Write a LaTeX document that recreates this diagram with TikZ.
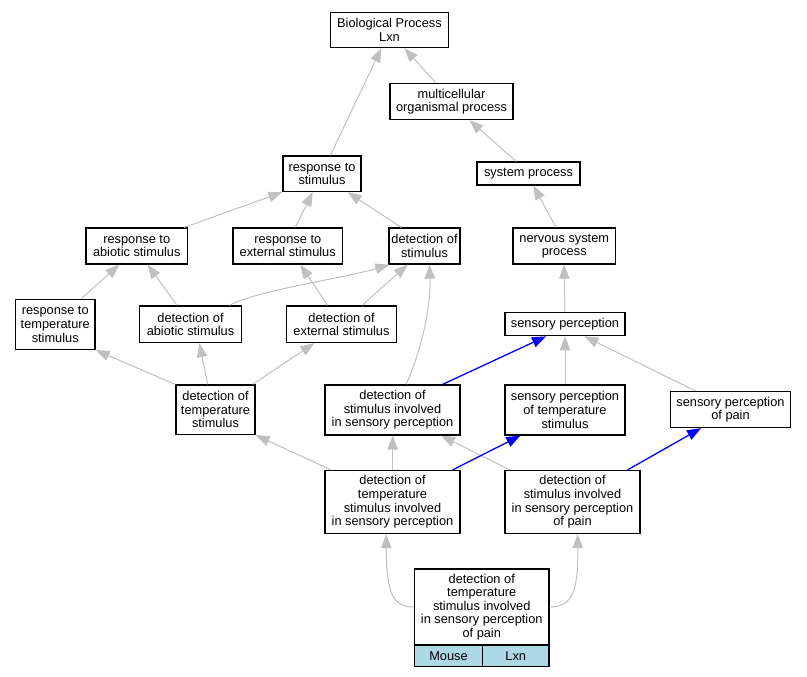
\documentclass[tikz,border=0pt]{standalone}
\usepackage{fontspec}
\setmainfont{Liberation Sans}
\usetikzlibrary{arrows.meta}
\definecolor{edgegray}{RGB}{192,192,192}
\definecolor{lblue}{RGB}{173,216,230}
\tikzset{
  box/.style={draw=black, line width=1.3pt, fill=white, inner sep=0pt, align=center,
    font=\fontsize{12.8}{13.6}\selectfont},
  gedge/.style={draw=edgegray, line width=1pt, -{Triangle[length=14pt,width=10.5pt]}},
  bedge/.style={draw=blue, line width=1.3pt, -{Triangle[length=14pt,width=10.5pt]}},
}
\begin{document}
\begin{tikzpicture}[x=1pt,y=-1pt]
\useasboundingbox (0,0) rectangle (807,677);
% nodes
\node[box, minimum width=118pt, minimum height=35pt] (bp) at (389.5,30) {Biological Process\\Lxn};
\node[box, minimum width=123pt, minimum height=36pt] (mcp) at (451.5,101.5) {multicellular\\organismal process};
\node[box, minimum width=78pt, minimum height=35.5pt] (rts) at (322,173.75) {response to\\stimulus};
\node[box, minimum width=103pt, minimum height=23pt] (sysp) at (528.5,173.5) {system process};
\node[box, minimum width=101.5pt, minimum height=36pt] (rab) at (136.75,246) {response to\\abiotic stimulus};
\node[box, minimum width=109.5pt, minimum height=36pt] (rext) at (287.75,246) {response to\\external stimulus};
\node[box, minimum width=71pt, minimum height=36pt] (dstim) at (424.5,246) {detection of\\stimulus};
\node[box, minimum width=102.5pt, minimum height=36pt] (nsp) at (564.25,246) {nervous system\\process};
\node[box, minimum width=79.5pt, minimum height=50pt] (rtemp) at (55.25,324.5) {response to\\temperature\\stimulus};
\node[box, minimum width=102pt, minimum height=36.5pt] (dab) at (190.5,324.25) {detection of\\abiotic stimulus};
\node[box, minimum width=110pt, minimum height=36.5pt] (dext) at (341.5,324.25) {detection of\\external stimulus};
\node[box, minimum width=120pt, minimum height=23pt] (sp) at (565,324.2) {sensory perception};
\node[box, minimum width=79pt, minimum height=49.5pt] (dtemp) at (215.5,409.75) {detection of\\temperature\\stimulus};
\node[box, minimum width=135pt, minimum height=50pt] (dsisp) at (392.5,410) {detection of\\stimulus involved\\in sensory perception};
\node[box, minimum width=120pt, minimum height=50pt] (sptemp) at (565,410) {sensory perception\\of temperature\\stimulus};
\node[box, minimum width=120pt, minimum height=36pt] (sppain) at (730.5,409.5) {sensory perception\\of pain};
\node[box, minimum width=135pt, minimum height=63pt] (dtisp) at (392.5,502) {detection of\\temperature\\stimulus involved\\in sensory perception};
\node[box, minimum width=135pt, minimum height=63pt] (dsispp) at (572.5,502) {detection of\\stimulus involved\\in sensory perception\\of pain};
\node[box, minimum width=134.5pt, minimum height=76pt] (bot) at (481.75,607) {detection of\\temperature\\stimulus involved\\in sensory perception\\of pain};
\node[box, fill=lblue, minimum width=68pt, minimum height=21.5pt] (mouse) at (448.5,655.75) {Mouse};
\node[box, fill=lblue, minimum width=66.5pt, minimum height=21.5pt] (lxn) at (515.75,655.75) {Lxn};
% gray edges
\draw[gedge] ([xshift=48pt]rts.north west) -- ([xshift=51.5pt]bp.south west);
\draw[gedge] ([xshift=46.5pt]mcp.north west) -- ([xshift=74.5pt]bp.south west);
\draw[gedge] ([xshift=39.7pt]sysp.north west) -- ([xshift=80pt]mcp.south west);
\draw[gedge] ([xshift=43.7pt]nsp.north west) -- ([xshift=57pt]sysp.south west);
\draw[gedge] (sp.north) -- ([xshift=51.75pt]nsp.south west);
\draw[gedge] ([xshift=99pt]rab.north west) -- (rts.south west);
\draw[gedge] ([xshift=63pt]rext.north west) -- ([xshift=30.3pt]rts.south west);
\draw[gedge] ([xshift=12.7pt]dstim.north west) -- ([xshift=65.3pt]rts.south west);
\draw[gedge] ([xshift=66.2pt]rtemp.north west) -- ([xshift=34pt]rab.south west);
\draw[gedge] ([xshift=38.2pt]dab.north west) -- ([xshift=62.3pt]rab.south west);
\draw[gedge] ([xshift=90.5pt]dab.north west) .. controls (258,290) and (345,278) .. ([xshift=1pt]dstim.south west);
\draw[gedge] ([xshift=41.8pt]dext.north west) -- ([xshift=68pt]rext.south west);
\draw[gedge] ([xshift=76.2pt]dext.north west) -- ([xshift=19.3pt]dstim.south west);
\draw[gedge] ([xshift=81.7pt]dsisp.north west) .. controls (424,345) and (431,300) .. ([xshift=41pt]dstim.south west);
\draw[gedge] (dtemp.north west) -- (rtemp.south east);
\draw[gedge] ([xshift=32.3pt]dtemp.north west) -- ([xshift=60.5pt]dab.south west);
\draw[gedge] ([xshift=77.3pt]dtemp.north west) -- ([xshift=28.5pt]dext.south west);
\draw[gedge] (sptemp.north) -- (sp.south);
\draw[gedge] ([xshift=25.5pt]sppain.north west) -- ([xshift=80pt]sp.south west);
\draw[gedge] ([xshift=6.7pt]dtisp.north west) -- (dtemp.south east);
\draw[gedge] ([xshift=68.3pt]dtisp.north west) -- ([xshift=68.3pt]dsisp.south west);
\draw[gedge] ([xshift=5.7pt]dsispp.north west) -- ([xshift=116.7pt]dsisp.south west);
\draw[gedge] (bot.west) .. controls (392,607) and (386.7,592) .. ([xshift=61.7pt]dtisp.south west);
\draw[gedge] (bot.east) .. controls (572,607) and (578.3,592) .. ([xshift=73.3pt]dsispp.south west);
% blue edges
\draw[bedge] ([xshift=118.3pt]dsisp.north west) -- ([xshift=41.7pt]sp.south west);
\draw[bedge] ([xshift=128.3pt]dtisp.north west) -- ([xshift=16pt]sptemp.south west);
\draw[bedge] ([xshift=123.3pt]dsispp.north west) -- ([xshift=31.2pt]sppain.south west);
\end{tikzpicture}
\end{document}
